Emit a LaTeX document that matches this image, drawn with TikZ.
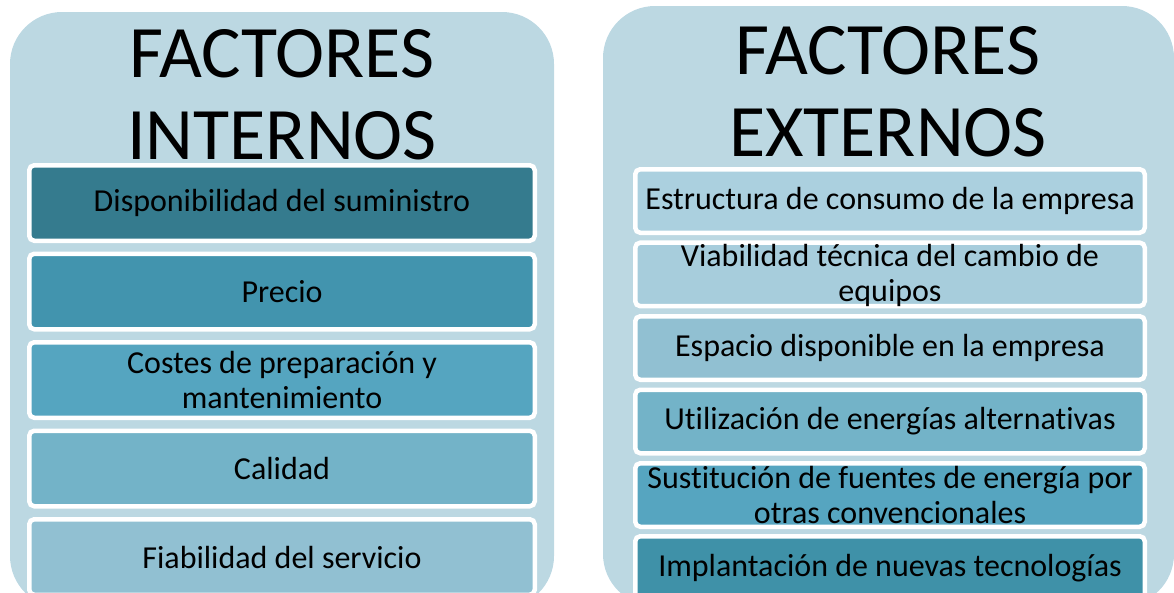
\documentclass[tikz,border=0pt]{standalone}
\usepackage{fontspec}
\setmainfont{Carlito}[Ligatures=NoCommon]
\definecolor{panel}{HTML}{BCD8E2}
\definecolor{lA}{HTML}{357B8E}
\definecolor{lB}{HTML}{4294AE}
\definecolor{lC}{HTML}{55A5C0}
\definecolor{lD}{HTML}{73B3C8}
\definecolor{lE}{HTML}{91C0D2}
\definecolor{rA}{HTML}{ABD0DF}
\definecolor{rB}{HTML}{A7CDDC}
\definecolor{rC}{HTML}{91C0D2}
\definecolor{rD}{HTML}{73B3C8}
\definecolor{rE}{HTML}{56A5C0}
\definecolor{rF}{HTML}{3F91A8}
\tikzset{
  panelbox/.style={fill=panel, draw=none, rounded corners=52pt},
  titletext/.style={align=center, inner sep=0pt, font=\fontsize{74}{82}\selectfont},
  itembox/.style={draw=white, line width=4.5pt, rounded corners=5pt, inner sep=0pt},
  leftitem/.style={itembox, minimum width=505.5pt, minimum height=75.5pt},
  rightitem/.style={itembox, minimum width=509.5pt, minimum height=63.5pt},
  itemtext/.style={align=center, inner sep=0pt, font=\fontsize{32}{35}\selectfont}
}
\begin{document}
\begin{tikzpicture}[x=1pt, y=-1pt]
\useasboundingbox (0,0) rectangle (1174,592);
\clip (0,0) rectangle (1174,592);
% panels
\path[panelbox] (10,12) rectangle (554,608);
\path[panelbox] (603,6) rectangle (1174,606);
% titles
\node[titletext] (tint) at (282,94.5) {FACTORES\\INTERNOS};
\node[titletext] (text) at (888,92) {FACTORES\\EXTERNOS};
% left items
\node[leftitem, fill=lA] (i1) at (282,203) {};
\node[leftitem, fill=lB] (i2) at (282,291.5) {};
\node[leftitem, fill=lC] (i3) at (282,380) {};
\node[leftitem, fill=lD] (i4) at (282,468.5) {};
\node[leftitem, fill=lE] (i5) at (282,557) {};
\node[itemtext] (ti1) at (i1.center) {Disponibilidad del suministro};
\node[itemtext] (ti2) at (i2.center) {Precio};
\node[itemtext] (ti3) at (i3.center) {Costes de preparación y\\mantenimiento};
\node[itemtext] (ti4) at (i4.center) {Calidad};
\node[itemtext] (ti5) at (i5.center) {Fiabilidad del servicio};
% right items
\node[rightitem, fill=rA] (e1) at (890,201) {};
\node[rightitem, fill=rB] (e2) at (890,274.4) {};
\node[rightitem, fill=rC] (e3) at (890,348) {};
\node[rightitem, fill=rD] (e4) at (890,421.5) {};
\node[rightitem, fill=rE] (e5) at (890,495) {};
\node[rightitem, fill=rF] (e6) at (890,568) {};
\node[itemtext] (te1) at (e1.center) {Estructura de consumo de la empresa};
\node[itemtext] (te2) at ([yshift=-1.5pt]e2.center) {Viabilidad técnica del cambio de\\equipos};
\node[itemtext] (te3) at (e3.center) {Espacio disponible en la empresa};
\node[itemtext] (te4) at (e4.center) {Utilización de energías alternativas};
\node[itemtext] (te5) at (e5.center) {Sustitución de fuentes de energía por\\otras convencionales};
\node[itemtext] (te6) at (e6.center) {Implantación de nuevas tecnologías};
\end{tikzpicture}
\end{document}
